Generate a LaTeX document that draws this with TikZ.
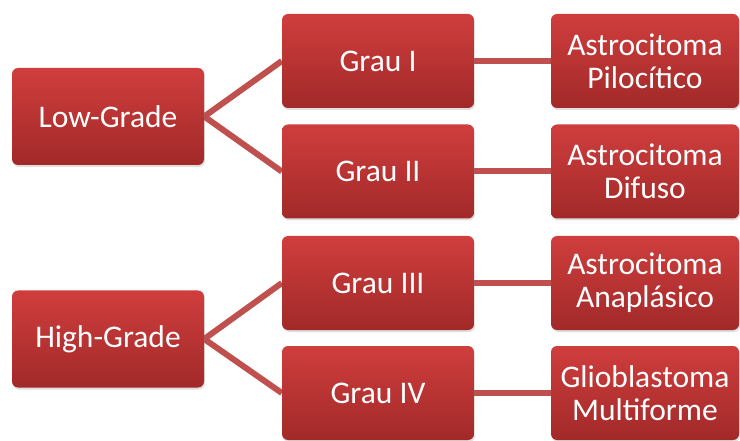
\documentclass[tikz,border=0pt]{standalone}
\usepackage{fontspec}
\setmainfont{Carlito}
\usetikzlibrary{backgrounds,shadows}

\definecolor{boxtop}{RGB}{207,62,61}
\definecolor{boxbot}{RGB}{162,41,41}
\definecolor{linkred}{RGB}{192,80,77}

\begin{document}
\begin{tikzpicture}
[x=1pt,y=-1pt,
 box/.style = {rounded corners=6pt, top color=boxtop, bottom color=boxbot, text=white, align=center,
   inner sep=0pt, minimum width=192pt, minimum height=94pt, font=\fontsize{31.5}{33}\selectfont,
   drop shadow={shadow xshift=1pt, shadow yshift=-2pt, opacity=0.25}},
 link/.style = {draw=linkred, line width=6pt},]
\useasboundingbox (0,0) rectangle (740,441);

\node (low) at (108,116.5)[box,minimum height=97pt] {Low-Grade};
\node (high) at (108,339)[box,minimum height=97pt] {High-Grade};

\node (g1) at (378,61)[box] {Grau I};
\node (g2) at (378,171.5)[box] {Grau II};
\node (g3) at (378,283)[box] {Grau III};
\node (g4) at (378,393)[box] {Grau IV};

\node (a1) at (645,61)[box,minimum width=188pt] {Astrocitoma\\Pilocítico};
\node (a2) at (645,171.5)[box,minimum width=188pt] {Astrocitoma\\Difuso};
\node (a3) at (645,283)[box,minimum width=188pt] {Astrocitoma\\Anaplásico};
\node (a4) at (645,393)[box,minimum width=188pt] {Glioblastoma\\Multiforme};

\begin{scope}[on background layer]
\draw[link] (low.east)--(g1.west);
\draw[link] (low.east)--(g2.west);
\draw[link] (high.east)--(g3.west);
\draw[link] (high.east)--(g4.west);
\draw[link] (g1.east)--(a1.west);
\draw[link] (g2.east)--(a2.west);
\draw[link] (g3.east)--(a3.west);
\draw[link] (g4.east)--(a4.west);
\end{scope}

\end{tikzpicture}
\end{document}
